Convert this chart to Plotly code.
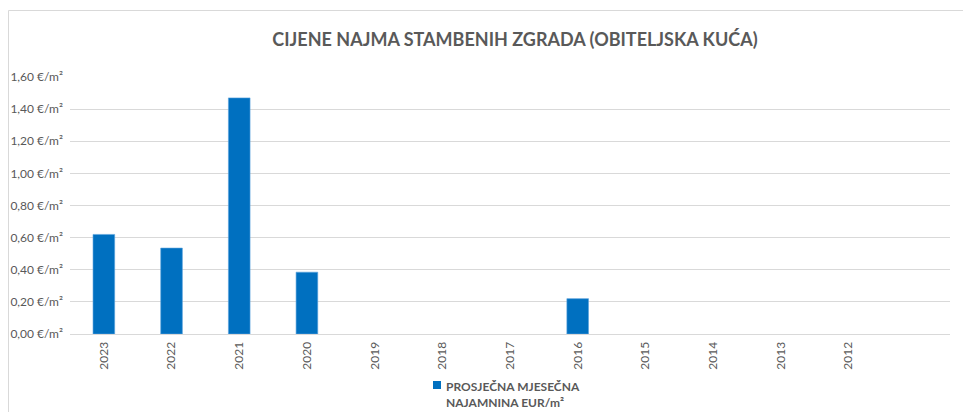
import plotly.graph_objects as go

years = ["2023", "2022", "2021", "2020", "2019", "2018", "2017", "2016",
         "2015", "2014", "2013", "2012"]
rent = [0.62, 0.535, 1.47, 0.385, None, None, None, 0.22, None, None, None, None]
y_ticks = [0, 0.2, 0.4, 0.6, 0.8, 1.0, 1.2, 1.4, 1.6]
y_tick_text = ["0,00 €/m²", "0,20 €/m²", "0,40 €/m²", "0,60 €/m²", "0,80 €/m²",
               "1,00 €/m²", "1,20 €/m²", "1,40 €/m²", "1,60 €/m²"]
series_name = "<b>PROSJEČNA MJESEČNA<br>NAJAMNINA EUR/m²</b>"

GRAY = "#595959"
BLUE = "#0070C0"
FONT = "Lato, 'Open Sans', sans-serif"

fig = go.Figure()
fig.add_trace(go.Bar(
    x=years, y=rent,
    name=series_name, showlegend=False,
    marker=dict(color=BLUE, line=dict(color="#5BA3DD", width=0.6)),
    width=0.32,
))

OFF = 8  # page body margin offset
W, H = 963, 404
L, R, T, B = 70 - OFF, 971 - 950, 77 - OFF, 412 - 334
pw, ph = W - L - R, H - T - B

def px(x):
    return (x - OFF - L) / pw

def py(y):
    return (H - B - (y - OFF)) / ph

fig.update_layout(
    width=W, height=H,
    margin=dict(l=L, r=R, t=T, b=B, autoexpand=False),
    paper_bgcolor="white", plot_bgcolor="white",
    font=dict(family=FONT, color=GRAY, size=12),
    title=dict(text="<b>CIJENE NAJMA STAMBENIH ZGRADA (OBITELJSKA KUĆA)</b>",
               xref="paper", x=px(515), xanchor="center",
               yref="container", y=1 - (40 - OFF) / H, yanchor="middle",
               font=dict(family=FONT, size=18, color=GRAY)),
    xaxis=dict(type="category", range=[-0.5, 12.5], tickangle=-90,
               showgrid=False, showline=True, linecolor="#D9D9D9", linewidth=1,
               ticks="", automargin=False, ticklabelstandoff=2,
               tickfont=dict(size=12, color=GRAY)),
    yaxis=dict(range=[0, 1.6], tickvals=y_ticks, ticktext=y_tick_text,
               showgrid=True, gridcolor="#D9D9D9", gridwidth=1, zeroline=False,
               ticks="", automargin=False, ticklabelstandoff=6,
               tickfont=dict(size=12, color=GRAY)),
    showlegend=False,
    shapes=[
        dict(type="line", xref="paper", yref="paper", x0=px(8.5), x1=px(975),
             y0=py(10.5), y1=py(10.5), line=dict(color="#D9D9D9", width=1)),
        dict(type="line", xref="paper", yref="paper", x0=px(8.5), x1=px(8.5),
             y0=py(10.5), y1=py(416), line=dict(color="#D9D9D9", width=1)),
        # legend key
        dict(type="rect", xref="paper", yref="paper", x0=px(433), x1=px(441),
             y0=py(381), y1=py(389), fillcolor=BLUE, line=dict(width=0)),
    ],
    annotations=[
        dict(text=series_name, xref="paper", yref="paper", x=px(444), y=py(377),
             xanchor="left", yanchor="top", align="left", showarrow=False,
             font=dict(size=12, color=GRAY)),
    ],
)

fig.write_html("out.html")
